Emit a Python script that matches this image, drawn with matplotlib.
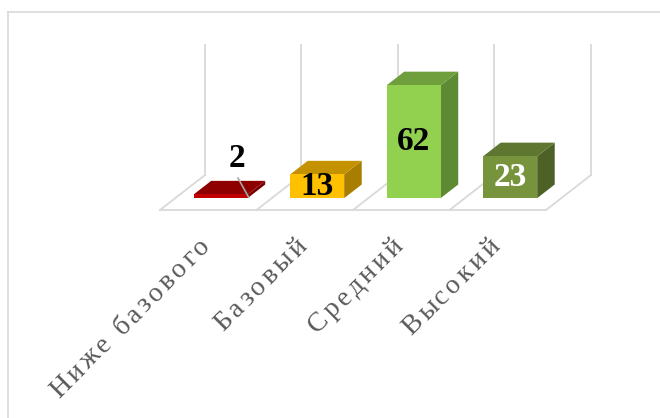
import numpy as np
import matplotlib.pyplot as plt
from matplotlib.patches import Polygon
from matplotlib.lines import Line2D
from matplotlib.font_manager import FontProperties

categories = ["Ниже базового", "Базовый", "Средний", "Высокий"]
values = [2, 13, 62, 23]
label_colors = ["black", "black", "black", "white"]

# face colours: front, top, side
front_colors = ["#C00000", "#FFC000", "#92D050", "#77933C"]
top_colors = ["#8E0000", "#C49200", "#6F9E3D", "#5F7630"]
side_colors = ["#7A0000", "#A87D00", "#5E8A33", "#4D6126"]

# fake 3d projection: depth d in [0, 1] shifts a point by (DX, DY)
DX, DY = 0.466, 19.2
wall_top = 71.5
d0, d1 = 0.34, 0.73
bar_w = 0.56
grid_c = "#d9d9d9"

fig = plt.figure(figsize=(6.6, 4.18), dpi=100)
ax = fig.add_axes([0, 0, 1, 1])
ax.set_xlim(-1.658, 5.181)
ax.set_ylim(-114.3, 115.4)
ax.axis("off")


def proj(x, y, d):
    return (x + d * DX, y + d * DY)


n = len(categories)
# floor and back wall
ax.plot([0, n], [0, 0], color=grid_c, lw=1.3, zorder=1)
for k in range(n + 1):
    bx, by = proj(k, 0, 1)
    ax.plot([k, bx], [0, by], color=grid_c, lw=1.3, zorder=1)
    ax.plot([bx, bx], [by, by + wall_top], color=grid_c, lw=1.3, zorder=1)

renderer = fig.canvas.get_renderer()
lab_prop = FontProperties(family="Liberation Serif", size=20)
tracking = 3.2  # extra px between letters
ang = np.deg2rad(45)
direc = np.array([np.cos(ang), np.sin(ang)])


def spaced_label(s, x, y):
    # letter-spaced rotated text, ending at data point (x, y)
    adv = []
    for ch in s:
        if ch == " ":
            w = 0.25 * 20 * 100 / 72
        else:
            w, _, _ = renderer.get_text_width_height_descent(ch, lab_prop, ismath=False)
        adv.append(w + tracking)
    total = sum(adv) - tracking
    end = ax.transData.transform((x, y))
    pos = end - total * direc
    inv = ax.transData.inverted()
    for ch, a in zip(s, adv):
        if ch != " ":
            px, py = inv.transform(pos)
            ax.text(px, py, ch, rotation=45, rotation_mode="anchor", ha="left",
                    va="baseline", fontproperties=lab_prop, color="#595959")
        pos = pos + a * direc


# bars
for i, v in enumerate(values):
    x0 = i + 0.47 - bar_w / 2
    x1 = x0 + bar_w
    front = [proj(x0, 0, d0), proj(x1, 0, d0), proj(x1, v, d0), proj(x0, v, d0)]
    top = [proj(x0, v, d0), proj(x1, v, d0), proj(x1, v, d1), proj(x0, v, d1)]
    side = [proj(x1, 0, d0), proj(x1, 0, d1), proj(x1, v, d1), proj(x1, v, d0)]
    ax.add_patch(Polygon(side, closed=True, fc=side_colors[i], ec="none", zorder=3))
    ax.add_patch(Polygon(top, closed=True, fc=top_colors[i], ec="none", zorder=3))
    ax.add_patch(Polygon(front, closed=True, fc=front_colors[i], ec="none", zorder=4))

    cx = (x0 + x1) / 2 + d0 * DX
    if v < 5:
        # too thin: label above with a leader line
        lx, ly = cx + 0.17, v + d0 * DY + 20
        ax.plot([lx + 0.01, lx + 0.12], [ly - 11, ly - 21.5], color="#a6a6a6",
                lw=1.2, zorder=5)
        ax.text(lx, ly, str(v), ha="center", va="center", fontsize=24,
                fontweight="bold", family="Liberation Serif", color=label_colors[i],
                zorder=6)
    else:
        ax.text(cx, d0 * DY + v / 2, str(v), ha="center", va="center", fontsize=24,
                fontweight="bold", family="Liberation Serif", color=label_colors[i],
                zorder=6)

    spaced_label(categories[i], i + 0.53, -20.5)

# chart border (cut off at right and bottom)
fig.add_artist(Line2D([8 / 660, 1], [1 - 12 / 418, 1 - 12 / 418],
                      transform=fig.transFigure, color=grid_c, lw=1.2))
fig.add_artist(Line2D([8 / 660, 8 / 660], [0, 1 - 12 / 418],
                      transform=fig.transFigure, color=grid_c, lw=1.2))

fig.savefig("out.png", dpi=100)
